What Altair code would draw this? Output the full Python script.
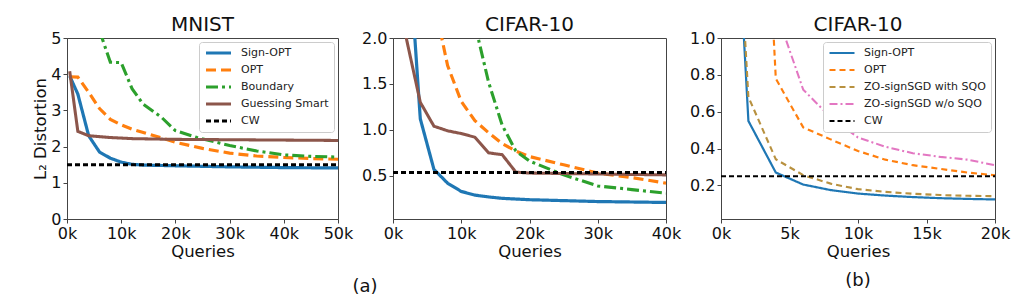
import altair as alt
import pandas as pd

FONT = "DejaVu Sans"

# ---------------- Panel 1: MNIST ----------------
mn_sign_q = [500, 2000, 4000, 6000, 8000, 10000, 12000, 14000, 20000, 30000, 40000, 50000]
mn_sign_v = [3.95, 3.45, 2.3, 1.85, 1.68, 1.57, 1.51, 1.49, 1.47, 1.44, 1.42, 1.41]
mn_opt_q = [500, 2000, 4000, 6000, 8000, 10000, 12000, 15000, 20000, 25000, 30000, 35000, 40000, 45000, 50000]
mn_opt_v = [3.93, 3.92, 3.5, 3.05, 2.75, 2.6, 2.48, 2.35, 2.12, 1.95, 1.82, 1.74, 1.7, 1.67, 1.65]
mn_bnd_q = [6000, 8000, 10000, 12000, 14000, 17500, 20000, 24000, 30000, 35000, 40000, 45000, 50000]
mn_bnd_v = [5.2, 4.33, 4.32, 3.6, 3.18, 2.8, 2.44, 2.25, 2.03, 1.88, 1.77, 1.73, 1.71]
mn_gs_q = [500, 2000, 4000, 8000, 12000, 20000, 30000, 40000, 50000]
mn_gs_v = [4.08, 2.42, 2.3, 2.25, 2.22, 2.2, 2.19, 2.18, 2.17]
mn_cw_q = [0, 50000]
mn_cw_v = [1.5, 1.5]

# ---------------- Panel 2: CIFAR-10 (a) ----------------
c1_sign_q = [2000, 4000, 6000, 8000, 10000, 12000, 14000, 16000, 20000, 25000, 30000, 35000, 40000]
c1_sign_v = [3.32, 1.12, 0.57, 0.42, 0.33, 0.29, 0.27, 0.255, 0.24, 0.23, 0.22, 0.215, 0.21]
c1_opt_q = [6000, 8000, 10000, 12000, 14000, 16000, 18000, 20000, 25000, 30000, 35000, 40000]
c1_opt_v = [2.4, 1.7, 1.31, 1.1, 0.97, 0.85, 0.77, 0.71, 0.62, 0.53, 0.48, 0.42]
c1_bnd_q = [12000, 14000, 16000, 18000, 20000, 25000, 30000, 35000, 40000]
c1_bnd_v = [2.15, 1.52, 1.05, 0.77, 0.66, 0.51, 0.39, 0.35, 0.31]
c1_gs_q = [1000, 2000, 4000, 6000, 8000, 10000, 12000, 14000, 16000, 18000, 20000, 30000, 40000]
c1_gs_v = [2.6, 1.98, 1.3, 1.04, 0.99, 0.96, 0.92, 0.75, 0.73, 0.54, 0.53, 0.52, 0.51]
c1_cw_q = [0, 40000]
c1_cw_v = [0.537, 0.537]

# ---------------- Panel 3: CIFAR-10 (b) ----------------
c2_sign_q = [1600, 2000, 4000, 6000, 8000, 10000, 12000, 14000, 16000, 18000, 20000]
c2_sign_v = [1.1, 0.55, 0.27, 0.205, 0.175, 0.156, 0.145, 0.137, 0.131, 0.127, 0.124]
c2_opt_q = [2000, 4000, 6000, 8000, 10000, 12000, 14000, 16000, 18000, 20000]
c2_opt_v = [3.7, 0.78, 0.515, 0.45, 0.387, 0.34, 0.31, 0.29, 0.27, 0.255]
c2_sqo_q = [1600, 2000, 4000, 6000, 8000, 10000, 12000, 14000, 16000, 18000, 20000]
c2_sqo_v = [1.2, 0.68, 0.342, 0.256, 0.21, 0.18, 0.165, 0.155, 0.148, 0.144, 0.142]
c2_wo_q = [4000, 6000, 8000, 10000, 12000, 14000, 16000, 18000, 20000]
c2_wo_v = [1.15, 0.72, 0.57, 0.46, 0.41, 0.375, 0.355, 0.34, 0.31]
c2_cw_q = [0, 20000]
c2_cw_v = [0.25, 0.25]

MN_SERIES = ["Sign-OPT", "OPT", "Boundary", "Guessing Smart", "CW"]
C2_SERIES = ["Sign-OPT", "OPT", "ZO-signSGD with SQO", "ZO-signSGD w/o SQO", "CW"]


def frame(pairs):
    rows = []
    for name, qs, vs in pairs:
        for q, v in zip(qs, vs):
            rows.append({"q": q, "v": v, "series": name})
    return pd.DataFrame(rows)


df1 = frame([("Sign-OPT", mn_sign_q, mn_sign_v), ("OPT", mn_opt_q, mn_opt_v),
             ("Boundary", mn_bnd_q, mn_bnd_v), ("Guessing Smart", mn_gs_q, mn_gs_v),
             ("CW", mn_cw_q, mn_cw_v)])
df2 = frame([("Sign-OPT", c1_sign_q, c1_sign_v), ("OPT", c1_opt_q, c1_opt_v),
             ("Boundary", c1_bnd_q, c1_bnd_v), ("Guessing Smart", c1_gs_q, c1_gs_v),
             ("CW", c1_cw_q, c1_cw_v)])
df3 = frame([("Sign-OPT", c2_sign_q, c2_sign_v), ("OPT", c2_opt_q, c2_opt_v),
             ("ZO-signSGD with SQO", c2_sqo_q, c2_sqo_v), ("ZO-signSGD w/o SQO", c2_wo_q, c2_wo_v),
             ("CW", c2_cw_q, c2_cw_v)])

legend_common = dict(
    orient="top-right", offset=4, title=None, fillColor="white", strokeColor="#cccccc",
    cornerRadius=3, padding=5, symbolType="stroke", symbolSize=625, clipHeight=12,
    labelFont=FONT, labelFontSize=11, labelColor="#222222", rowPadding=5, labelOffset=8,
)


def panel(df, series, colors, dashes, widths, xmax, xticks, ydom, yticks, yfmt, ytitle, title,
          width, show_legend, sym_w):
    legend = alt.Legend(symbolStrokeWidth=sym_w, **legend_common) if show_legend else None
    lines = alt.Chart(df).mark_line(clip=True).encode(
        x=alt.X("q:Q", title="Queries",
                scale=alt.Scale(domain=[0, xmax], nice=False, zero=False),
                axis=alt.Axis(values=xticks, labelExpr="datum.value / 1000 + 'k'")),
        y=alt.Y("v:Q", title=ytitle,
                scale=alt.Scale(domain=ydom, nice=False, zero=False),
                axis=alt.Axis(values=yticks, format=yfmt)),
        color=alt.Color("series:N", scale=alt.Scale(domain=series, range=colors), legend=legend),
        strokeDash=alt.StrokeDash("series:N", scale=alt.Scale(domain=series, range=dashes), legend=legend),
        strokeWidth=alt.StrokeWidth("series:N", scale=alt.Scale(domain=series, range=widths), legend=None),
        order="q:Q",
    )
    return lines.properties(width=width, height=181, title=title)


p1 = panel(df1, MN_SERIES,
           ["#1f77b4", "#ff7f0e", "#2ca02c", "#8c564b", "#000000"],
           [[1, 0], [10, 5], [12, 4, 3, 4], [1, 0], [5, 3]],
           [3.2, 3, 3, 2, 1.6],
           50000, [0, 10000, 20000, 30000, 40000, 50000],
           [0, 5], [0, 1, 2, 3, 4, 5], "d", "L₂ Distortion", "MNIST", 271, True, 2.5)

p2 = panel(df2, MN_SERIES,
           ["#1f77b4", "#ff7f0e", "#2ca02c", "#8c564b", "#000000"],
           [[1, 0], [10, 5], [12, 4, 3, 4], [1, 0], [5, 3]],
           [3.2, 3, 3, 2, 1.6],
           40000, [0, 10000, 20000, 30000, 40000],
           [0.03, 2.0], [0.5, 1.0, 1.5, 2.0], ".1f", None, "CIFAR-10", 273, False, 2.5)

p3 = panel(df3, C2_SERIES,
           ["#1f77b4", "#ff7f0e", "#b8913f", "#e377c2", "#000000"],
           [[1, 0], [6, 4], [6, 4], [8, 3, 2, 3], [5, 3]],
           [2.2, 2, 2, 2, 1.6],
           20000, [0, 5000, 10000, 15000, 20000],
           [0.018, 1.0], [0.2, 0.4, 0.6, 0.8, 1.0], ".1f", None, "CIFAR-10", 274, True, 2)

lab_a = alt.Chart(pd.DataFrame({"t": ["(a)"]})).mark_text(
    font=FONT, fontSize=18, color="#111111", baseline="middle", align="center"
).encode(x=alt.value(-28), y=alt.value(249), text="t:N")
lab_b = alt.Chart(pd.DataFrame({"t": ["(b)"]})).mark_text(
    font=FONT, fontSize=18, color="#111111", baseline="middle", align="center"
).encode(x=alt.value(137), y=alt.value(243), text="t:N")

p2 = alt.layer(p2, lab_a)
p3 = alt.layer(p3, lab_b)

chart = alt.hconcat(p1, p2, p3, spacing=55, bounds="flush").resolve_scale(
    color="independent", strokeDash="independent", strokeWidth="independent",
    x="independent", y="independent"
).properties(
    padding={"left": 24, "top": 6, "right": 5, "bottom": 0}
).configure_view(
    stroke="#444444", strokeWidth=1
).configure_axis(
    grid=False, domainColor="#444444", tickColor="#444444", tickSize=4,
    labelFont=FONT, labelFontSize=16, labelColor="#111111", labelPadding=2,
    labelFlush=False, labelOverlap=False,
    titleFont=FONT, titleFontSize=16.5, titleFontWeight="normal", titleColor="#111111",
    titlePadding=2,
).configure_title(
    font=FONT, fontSize=20, fontWeight="normal", color="#111111", offset=-5, anchor="middle"
).configure_legend(
    labelLimit=300
)

chart.save("out.html", embed_options={"renderer": "svg", "actions": False})
